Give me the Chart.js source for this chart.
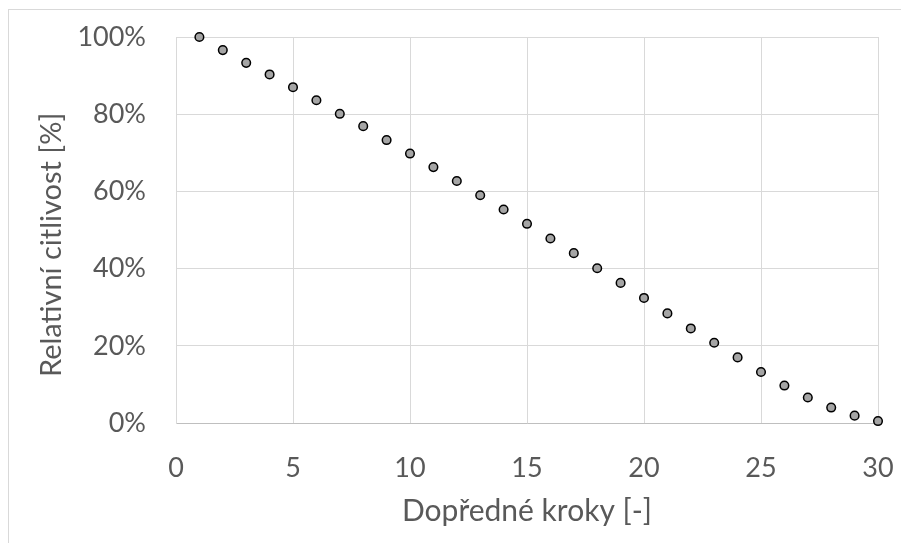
<!DOCTYPE html>
<html>
<head>
<meta charset="utf-8">
<script src="https://cdn.jsdelivr.net/npm/chart.js@4.4.0/dist/chart.umd.min.js"></script>
<style>
    body { margin: 0; overflow: hidden; background: #fff; }
    #wrap { position: relative; width: 901px; height: 543px; }
    #frame { position: absolute; left: 8px; top: 9px; width: 1000px; height: 1000px;
             border-top: 1px solid #d9d9d9; border-left: 1px solid #d9d9d9; }
    canvas { position: absolute; left: 0; top: 0; }
</style>
</head>
<body>
<div id="wrap">
    <div id="frame"></div>
    <canvas id="myChart" width="901" height="543"></canvas>
</div>
<script>
const steps = [1, 2, 3, 4, 5, 6, 7, 8, 9, 10, 11, 12, 13, 14, 15, 16, 17, 18, 19, 20, 21, 22, 23, 24, 25, 26, 27, 28, 29, 30]
const sensitivity = [100, 96.6, 93.3, 90.3, 87.0, 83.6, 80.1, 76.9, 73.3, 69.8,
    66.3, 62.7, 59.0, 55.3, 51.6, 47.8, 44.0, 40.1, 36.3, 32.4,
    28.4, 24.5, 20.8, 17.0, 13.2, 9.7, 6.6, 4.0, 1.9, 0.5]
const xTicks = [0, 5, 10, 15, 20, 25, 30]
const yTicks = [0, 20, 40, 60, 80, 100]

const fontFamily = "Lato, 'Open Sans', sans-serif"
const textColor = "#595959"
const gridColor = "#d9d9d9"

const points = steps.map((s, i) => ({ x: s, y: sensitivity[i] }))

const config = {
    type: "scatter",
    data: {
        datasets: [
            {
                label: "Relativní citlivost",
                data: points,
                backgroundColor: "#a5a5a5",
                borderColor: "#000000",
                borderWidth: 1.5,
                pointRadius: 4.3,
                pointHoverRadius: 4.3,
                clip: false
            }
        ]
    },
    options: {
        responsive: false,
        animation: false,
        layout: { padding: { left: 0, top: 37, right: 23, bottom: 0 } },
        plugins: { legend: { display: false }, tooltip: { enabled: false } },
        scales: {
            x: {
                type: "linear",
                min: 0,
                max: 30,
                afterBuildTicks: (axis) => { axis.ticks = xTicks.map(v => ({ value: v })) },
                afterFit: (axis) => { axis.height = 120 },
                // invisible tick marks give the label gap without extra layout padding
                grid: { color: gridColor, drawTicks: true, tickLength: 27, tickColor: "rgba(0,0,0,0)" },
                border: { color: "#bfbfbf", width: 1 },
                ticks: { color: textColor, padding: 2, font: { family: fontFamily, size: 27 } },
                title: {
                    display: true,
                    text: "Dopředné kroky [-]",
                    color: textColor,
                    padding: { top: 0, bottom: 14 },
                    font: { family: fontFamily, size: 30, weight: "normal" }
                }
            },
            y: {
                type: "linear",
                min: 0,
                max: 100,
                afterBuildTicks: (axis) => { axis.ticks = yTicks.map(v => ({ value: v })) },
                afterFit: (axis) => { axis.width = 176 },
                grid: { color: gridColor, drawTicks: true, tickLength: 28, tickColor: "rgba(0,0,0,0)" },
                border: { color: gridColor, width: 1 },
                ticks: {
                    color: textColor,
                    padding: 2,
                    font: { family: fontFamily, size: 27 },
                    callback: (v) => v + "%"
                },
                title: {
                    display: true,
                    // trailing spaces push the title a bit down, like the original
                    text: "Relativní citlivost [%]\u00a0\u00a0\u00a0\u00a0",
                    color: textColor,
                    padding: { top: 34, bottom: 0 },
                    font: { family: fontFamily, size: 29, weight: "normal" }
                }
            }
        }
    }
}

const chartDOM = document.getElementById("myChart")
const myChart = new Chart(chartDOM, config)
</script>
</body>
</html>
